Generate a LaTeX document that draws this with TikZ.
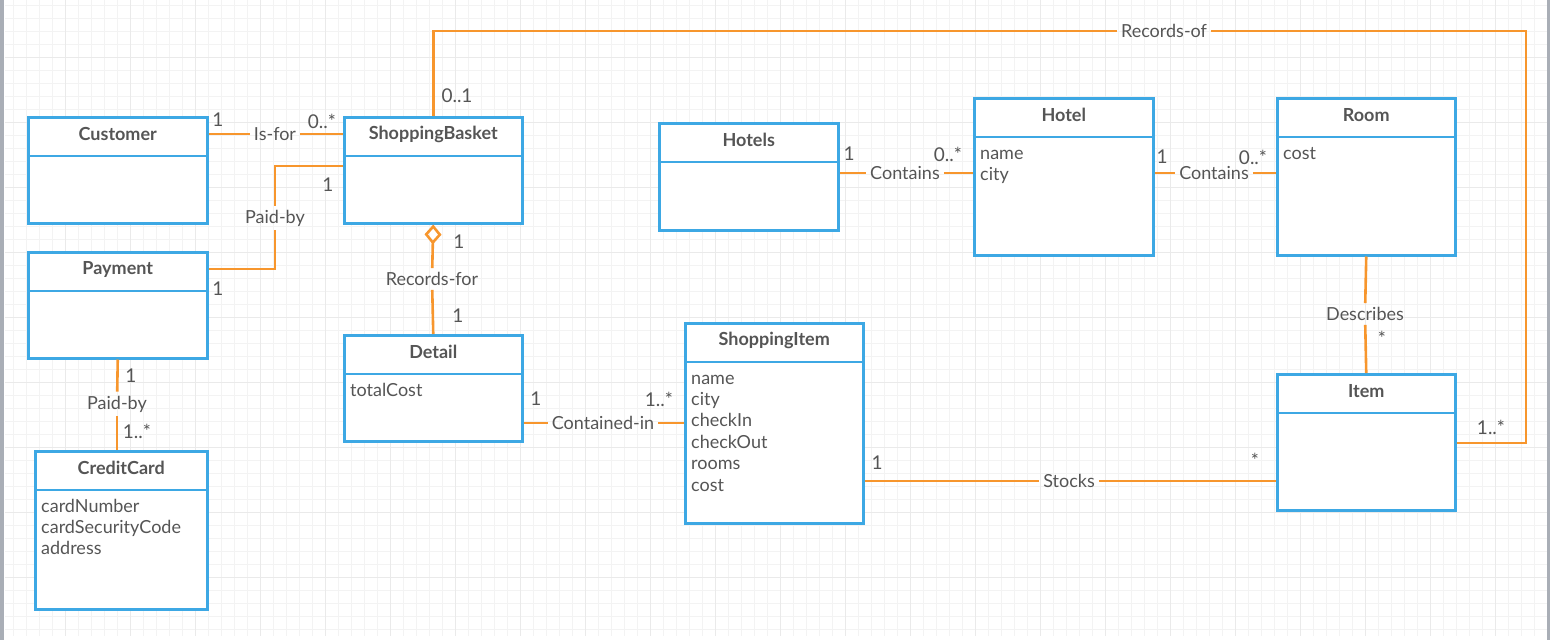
\documentclass[tikz,border=0pt]{standalone}
\usepackage{fontspec}
\setmainfont{Lato}
\usetikzlibrary{arrows.meta}

\definecolor{umlblue}{HTML}{3DA8E4}
\definecolor{umlorange}{HTML}{F7962D}
\definecolor{umltext}{HTML}{555555}
\definecolor{gridminor}{HTML}{F3F3F3}
\definecolor{gridmajor}{HTML}{EAEAEA}
\definecolor{sideframe}{HTML}{A9AEB6}

\tikzset{
  classbox/.style={draw=umlblue, line width=2.5pt, fill=white, anchor=north west, inner sep=0pt},
  classtitle/.style={font=\bfseries\fontsize{18}{21}\selectfont, text=umltext},
  attr/.style={font=\fontsize{18}{21}\selectfont, text=umltext, anchor=base west, inner sep=0pt},
  link/.style={draw=umlorange, line width=2.6pt},
  assoc/.style={font=\fontsize{18}{21}\selectfont, text=umltext, inner sep=4pt},
  mult/.style={font=\fontsize{19}{22}\selectfont, text=umltext, inner sep=0pt},
}

% name, x, y, width, height, title
\newcommand{\umlclass}[6]{
  \node[classbox, minimum width=#4pt, minimum height=#5pt] (#1) at (#2,#3) {};
  \draw[umlblue, line width=2.5pt] ([yshift=-40pt]#1.north west) -- ([yshift=-40pt]#1.north east);
  \node[classtitle] (#1-title) at ([yshift=-18pt]#1.north) {#6};
}
% name, attribute list
\newcommand{\umlattrs}[2]{
  \foreach \a [count=\i] in {#2} {
    \node[attr] at ([xshift=7pt, yshift={-62pt-(\i-1)*21.4pt}]#1.north west) {\a};
  }
}

\begin{document}
\begin{tikzpicture}[x=1pt, y=-1pt]
  \useasboundingbox (0,0) rectangle (1550,640);
  % grid
  \foreach \x in {0,13,...,1547} \draw[gridminor, line width=1pt] (\x,0) -- (\x,636);
  \foreach \y in {5.5,18.5,...,636} \draw[gridminor, line width=1pt] (5,\y) -- (1547,\y);
  \foreach \x in {65,130,...,1547} \draw[gridmajor, line width=1pt] (\x,0) -- (\x,636);
  \foreach \y in {57.5,122.5,...,636} \draw[gridmajor, line width=1pt] (5,\y) -- (1547,\y);
  \fill[sideframe] (0,0) rectangle (4,640);
  \fill[sideframe] (1547,0) rectangle (1550,640);

  % classes
  \umlclass{cust}{27}{116}{179}{106}{Customer}
  \umlclass{basket}{343}{116}{178}{106}{ShoppingBasket}
  \umlclass{pay}{27}{251}{179}{106}{Payment}
  \umlclass{card}{34}{450}{172}{158}{CreditCard}
  \umlattrs{card}{cardNumber,cardSecurityCode,address}
  \umlclass{detail}{343}{334}{178}{106}{Detail}
  \umlattrs{detail}{totalCost}
  \umlclass{hotels}{658}{122}{179}{107}{Hotels}
  \umlclass{hotel}{973}{97}{179}{157}{Hotel}
  \umlattrs{hotel}{name,city}
  \umlclass{room}{1276}{97}{178}{157}{Room}
  \umlattrs{room}{cost}
  \umlclass{sitem}{684}{322}{178}{200}{ShoppingItem}
  \umlattrs{sitem}{name,city,checkIn,checkOut,rooms,cost}
  \umlclass{item}{1276}{373}{178}{136}{Item}

  % associations
  \node[assoc] (isfor) at (275,134) {Is-for};
  \draw[link] (cust.east |- isfor) -- (isfor);
  \draw[link] (isfor) -- (basket.west |- isfor);
  \node[mult] (isfor-m1) at (218,120) {1};
  \node[mult] (isfor-m2) at (322,121) {0..*};

  \node[assoc] (paidby) at (275,218) {Paid-by};
  \draw[link] ([yshift=-50pt]basket.north west) -| (paidby);
  \draw[link] (paidby) |- ([yshift=-18pt]pay.north east);
  \node[mult] (paidby-m1) at (328,185) {1};
  \node[mult] (paidby-m2) at (218,289) {1};

  \node[assoc] (recfor) at (432,279) {Records-for};
  \draw[link, {Diamond[open, length=20pt, width=17pt]}-] (basket.south) -- (recfor);
  \draw[link] (recfor) -- (detail.north);
  \node[mult] (recfor-m1) at (459,242) {1};
  \node[mult] (recfor-m2) at (458,316) {1};

  \node[assoc] (paidcard) at (117,404) {Paid-by};
  \draw[link] (pay.south) -- (paidcard);
  \draw[link] (paidcard) -- (paidcard |- card.north);
  \node[mult] (paidcard-m1) at (131,376) {1};
  \node[mult] (paidcard-m2) at (137,431) {1..*};

  \node[assoc] (contin) at (603,423) {Contained-in};
  \draw[link] (detail.east |- contin) -- (contin);
  \draw[link] (contin) -- (sitem.west |- contin);
  \node[mult] (contin-m1) at (536,399) {1};
  \node[mult] (contin-m2) at (659,399) {1..*};

  \node[assoc] (contains) at (905,173) {Contains};
  \draw[link] (hotels.east |- contains) -- (contains);
  \draw[link] (contains) -- (hotel.west |- contains);
  \node[mult] (contains-m1) at (849,154) {1};
  \node[mult] (contains-m2) at (948,154) {0..*};

  \node[assoc] (hasroom) at (1214,173) {Contains};
  \draw[link] (hotel.east |- hasroom) -- (hasroom);
  \draw[link] (hasroom) -- (room.west |- hasroom);
  \node[mult] (hasroom-m1) at (1162,157) {1};
  \node[mult] (hasroom-m2) at (1253,157) {0..*};

  \node[assoc] (descr) at (1365,314) {Describes};
  \draw[link] (room.south) -- (descr);
  \draw[link] (descr) -- (item.north);
  \node[mult] (descr-m1) at (1382,338) {*};

  \node[assoc] (stocks) at (1069,481) {Stocks};
  \draw[link] (sitem.east |- stocks) -- (stocks);
  \draw[link] (stocks) -- (item.west |- stocks);
  \node[mult] (stocks-m1) at (877,463) {1};
  \node[mult] (stocks-m2) at (1255,460) {*};

  \node[assoc] (recof) at (1164,31) {Records-of};
  \coordinate (recof-turn) at (1526,31);
  \draw[link] (basket.north) |- (recof);
  \draw[link] (recof) -- (recof-turn) |- ([yshift=-70pt]item.north east);
  \node[mult] (recof-m1) at (457,96) {0..1};
  \node[mult] (recof-m2) at (1491,427) {1..*};
\end{tikzpicture}
\end{document}
